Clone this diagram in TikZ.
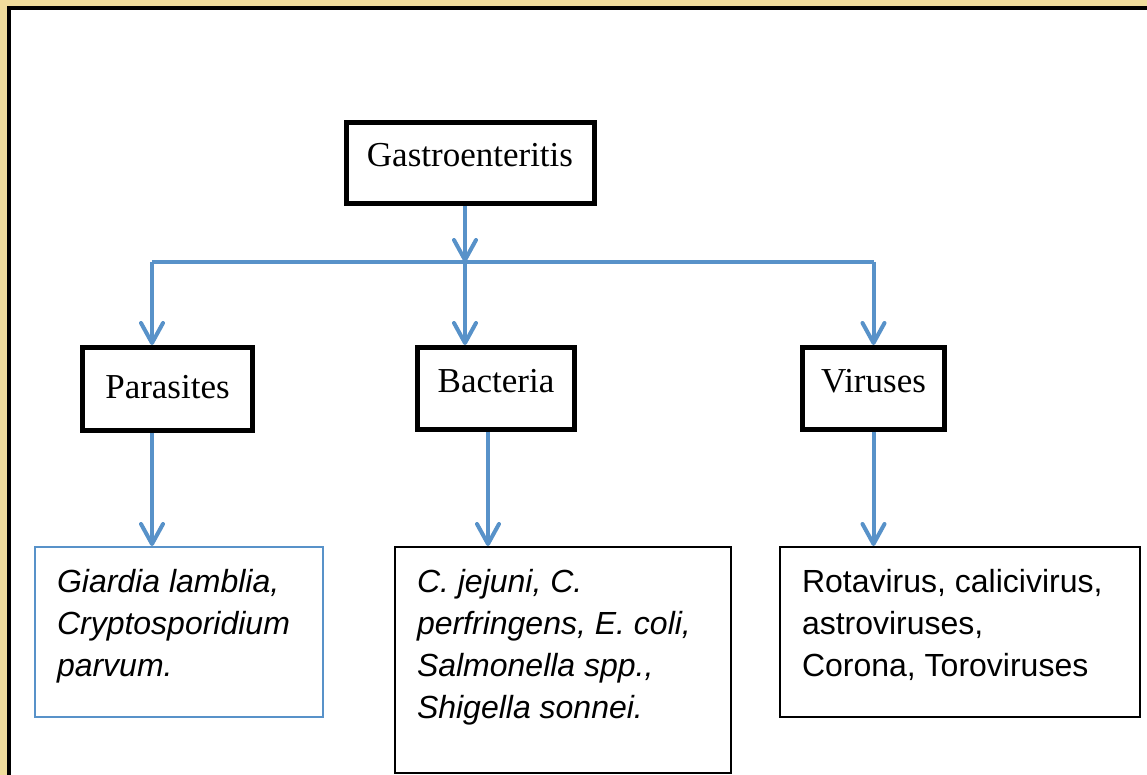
\documentclass[tikz,border=0pt]{standalone}
\usepackage{fontspec}
\setmainfont{Liberation Serif}
\setsansfont{Liberation Sans}
\usetikzlibrary{arrows.meta,positioning}
\definecolor{linkblue}{RGB}{88,146,201}
\definecolor{framegold}{RGB}{240,220,156}

\begin{document}
\begin{tikzpicture}[x=0.5pt,y=-0.5pt,>={Straight Barb[length=10pt,width=11pt,round]}]
    % box styles: heavy frames for the groups, thin ones for the species lists
    \tikzstyle{group}=[rectangle,draw=black,line width=2.5pt,inner sep=0pt,
    text height=12pt,text depth=8pt,font=\fontsize{17.5}{20}\selectfont]
    \tikzstyle{species}=[rectangle,draw=black,line width=1pt,inner sep=11pt,
    anchor=north west,font=\sffamily\fontsize{16}{21}\selectfont]
    \tikzstyle{link}=[draw=linkblue,line width=2pt]

    \useasboundingbox (0,0) rectangle (1147,775);
    \fill [framegold] (0,0) rectangle (1147,775);
    \fill [white] (9,8) rectangle (1147,775);
    \draw [line width=1.6pt] (9,775) -- (9,8) -- (1147,8);

    \node [group,minimum width=124pt,minimum height=40.5pt] (ga) at (470,163) {Gastroenteritis};
    \node [group,minimum width=85pt,minimum height=41.5pt,text depth=2pt] (pa) at (167.5,389) {Parasites};
    \node [group,minimum width=78.5pt,minimum height=41pt] (ba) at (496,388.5) {Bacteria};
    \node [group,minimum width=71pt,minimum height=41pt] (vi) at (873.5,388.5) {Viruses};

    \node [species,draw=linkblue] (pl) at (34,546)
      {\parbox[t][63pt][t]{122pt}{\itshape Giardia lamblia,\\ Cryptosporidium\\ parvum.}};
    \node [species] (bl) at (394,546)
      {\parbox[t][91pt][t]{146pt}{\itshape C. jejuni, C.\\ perfringens, E. coli,\\ Salmonella spp.,\\ Shigella sonnei.}};
    \node [species] (vl) at (779,546)
      {\parbox[t][63pt][t]{158pt}{Rotavirus, calicivirus,\\ astroviruses,\\ Corona, Toroviruses}};

    \coordinate (busL) at (152,262);
    \coordinate (busM) at (465,262);
    \coordinate (busR) at (873.5,262);

    \draw [link] (busL) -- (busR);
    \path (busM |- ga.south) edge [link,->] (busM);
    \path (busL) edge [link,->] (busL |- pa.north);
    \path (busM) edge [link,->] (busM |- ba.north);
    \path (busR) edge [link,->] (vi.north);
    \path (busL |- pa.south) edge [link,->] (busL |- pl.north);
    \path ([xshift=-4pt]ba.south) edge [link,->] ([xshift=-4pt]ba.south |- bl.north);
    \path (vi.south) edge [link,->] (vi.south |- vl.north);

  \end{tikzpicture}
\end{document}
